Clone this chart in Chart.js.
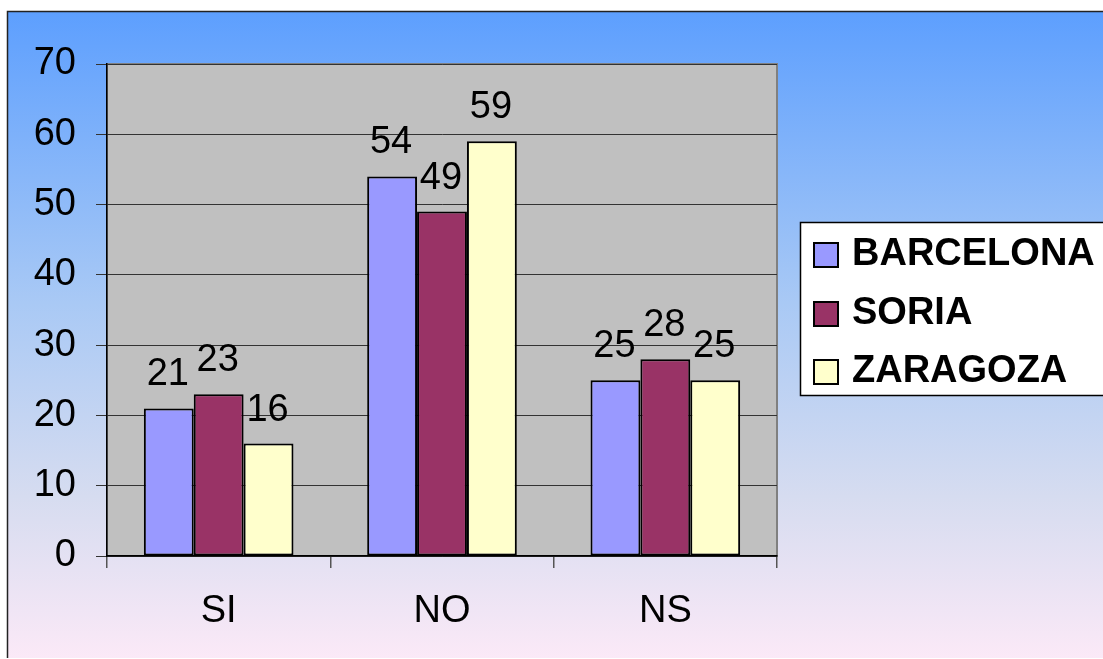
<!DOCTYPE html>
<html>
<head>
<meta charset="utf-8">
<title>SI / NO / NS</title>
<script src="https://cdn.jsdelivr.net/npm/chart.js@4.4.0/dist/chart.umd.min.js"></script>
<style>
  html, body { margin: 0; padding: 0; background: #fff; }
  #grafico { display: block; }
</style>
</head>
<body>
<canvas id="grafico" width="1103" height="659"></canvas>
<script>
// datos
var categorias = ["SI", "NO", "NS"];
var barcelona = [21, 54, 25];
var soria = [23, 49, 28];
var zaragoza = [16, 59, 25];
var ticksY = [0, 10, 20, 30, 40, 50, 60, 70];

var fuente = '"Liberation Sans", Arial, sans-serif';

// fondo degradado + area gris del grafico
var fondo = {
  id: 'fondo',
  beforeDraw: function (chart) {
    var ctx = chart.ctx, a = chart.chartArea;
    ctx.save();
    ctx.fillStyle = '#fff';
    ctx.fillRect(0, 0, chart.width, chart.height);
    var g = ctx.createLinearGradient(0, 12, 0, 658);
    g.addColorStop(0, '#5d9ffe');
    g.addColorStop(0.45, '#a9c9f5');
    g.addColorStop(0.75, '#d6dcf0');
    g.addColorStop(1, '#fbe9f7');
    ctx.fillStyle = g;
    ctx.fillRect(8, 12, chart.width - 8, 646);
    ctx.strokeStyle = '#222';
    ctx.lineWidth = 1.5;
    ctx.beginPath();
    ctx.moveTo(7.5, 658);
    ctx.lineTo(7.5, 11.5);
    ctx.lineTo(chart.width, 11.5);
    ctx.stroke();
    ctx.fillStyle = '#c0c0c0';
    ctx.fillRect(a.left, a.top, a.right - a.left, a.bottom - a.top);
    ctx.strokeStyle = '#808080';
    ctx.lineWidth = 2;
    ctx.strokeRect(a.left, a.top, a.right - a.left, a.bottom - a.top);
    ctx.restore();
  }
};

// valores encima de las barras
var etiquetas = {
  id: 'etiquetas',
  afterDatasetsDraw: function (chart) {
    var ctx = chart.ctx;
    ctx.save();
    ctx.font = '38px ' + fuente;
    ctx.fillStyle = '#000';
    ctx.textAlign = 'center';
    ctx.textBaseline = 'alphabetic';
    chart.data.datasets.forEach(function (ds, i) {
      chart.getDatasetMeta(i).data.forEach(function (bar, j) {
        ctx.fillText(ds.data[j], bar.x - 1, bar.y - 23);
      });
    });
    ctx.restore();
  }
};

// leyenda con caja blanca
var leyenda = {
  id: 'leyenda',
  afterDraw: function (chart) {
    var ctx = chart.ctx;
    var filas = [265, 324, 382];
    ctx.save();
    ctx.fillStyle = '#fff';
    ctx.fillRect(800, 222, 320, 174);
    ctx.strokeStyle = '#000';
    ctx.lineWidth = 1.5;
    ctx.strokeRect(800.5, 222.5, 320, 173);
    ctx.font = 'bold 38px ' + fuente;
    ctx.textAlign = 'left';
    ctx.textBaseline = 'alphabetic';
    chart.data.datasets.forEach(function (ds, i) {
      var y = filas[i];
      ctx.fillStyle = ds.backgroundColor;
      ctx.fillRect(814, y - 22, 24, 24);
      ctx.strokeStyle = '#000';
      ctx.lineWidth = 2;
      ctx.strokeRect(814, y - 22, 24, 24);
      ctx.fillStyle = '#000';
      ctx.fillText(ds.label, 852, y);
    });
    ctx.restore();
  }
};

new Chart(document.getElementById('grafico'), {
  type: 'bar',
  data: {
    labels: categorias,
    datasets: [
      { label: 'BARCELONA', data: barcelona, backgroundColor: '#9999ff' },
      { label: 'SORIA', data: soria, backgroundColor: '#993366' },
      { label: 'ZARAGOZA', data: zaragoza, backgroundColor: '#ffffcc' }
    ]
  },
  options: {
    responsive: false,
    animation: false,
    layout: { padding: { left: 8, top: 64, right: 326, bottom: 0 } },
    datasets: {
      bar: {
        borderColor: '#000',
        borderWidth: 2,
        borderSkipped: false,
        categoryPercentage: 0.67,
        barPercentage: 1
      }
    },
    plugins: {
      legend: { display: false },
      title: { display: false },
      tooltip: { enabled: false }
    },
    scales: {
      x: {
        grid: { display: true, drawOnChartArea: false, offset: true, tickLength: 12, color: '#555', lineWidth: 1.5 },
        border: { color: '#000', width: 1.5 },
        ticks: { color: '#000', font: { family: fuente, size: 38 }, padding: 21 },
        afterFit: function (scale) { scale.height = 103; }
      },
      y: {
        min: 0,
        max: 70,
        afterBuildTicks: function (scale) {
          scale.ticks = ticksY.map(function (v) { return { value: v }; });
        },
        grid: { color: '#333', lineWidth: 1, tickLength: 11 },
        border: { color: '#000', width: 1.5 },
        ticks: { color: '#000', font: { family: fuente, size: 38 }, padding: 20 },
        afterFit: function (scale) { scale.width = 99; }
      }
    }
  },
  plugins: [fondo, etiquetas, leyenda]
});
</script>
</body>
</html>
